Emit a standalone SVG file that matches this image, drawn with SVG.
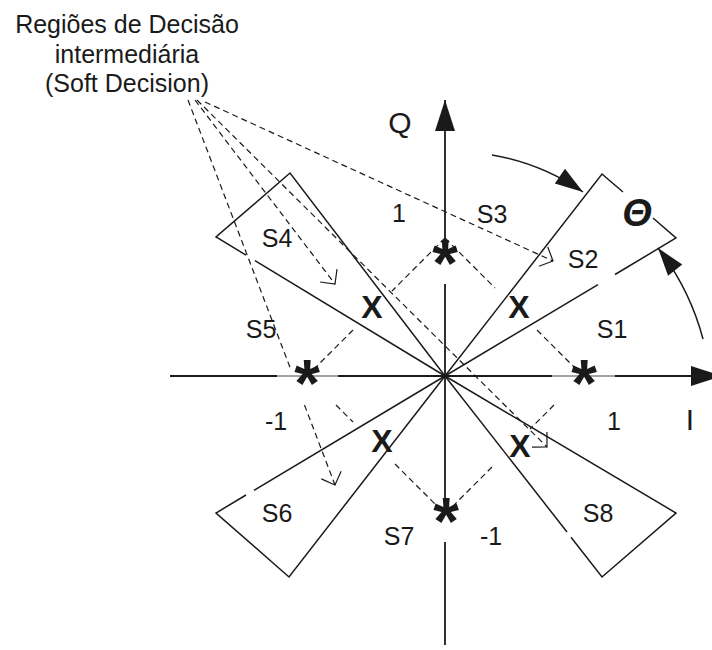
<svg xmlns="http://www.w3.org/2000/svg" width="712" height="650" viewBox="0 0 712 650">
<style>
  text { font-family: "Liberation Sans", Arial, sans-serif; fill: #1a1a1a; }
  .lbl { font-size: 25px; text-anchor: middle; }
  .big { font-size: 30px; text-anchor: middle; }
  .x { font-size: 32px; font-weight: bold; text-anchor: middle; }
  .star { font-size: 66px; font-weight: bold; text-anchor: middle; }
  .solid { stroke: #1a1a1a; stroke-width: 1.5; fill: none; stroke-linecap: butt; }
  .axis { stroke: #1a1a1a; stroke-width: 1.8; fill: none; }
  .thin { stroke: #1a1a1a; stroke-width: 0.8; fill: none; }
  .dash { stroke: #1a1a1a; stroke-width: 1.2; fill: none; stroke-dasharray: 6 4; }
</style>
<defs>
  <marker id="axhead" markerUnits="userSpaceOnUse" markerWidth="40" markerHeight="30" refX="0" refY="0" viewBox="-35 -15 40 30" orient="auto" overflow="visible">
    <path d="M0,0 L-31,-10 L-31,10 Z" fill="#1a1a1a"/>
  </marker>
  <marker id="archead" markerUnits="userSpaceOnUse" markerWidth="40" markerHeight="30" refX="0" refY="0" viewBox="-35 -15 40 30" orient="auto" overflow="visible">
    <path d="M0,0 L-28,-9 L-28,9 Z" fill="#1a1a1a"/>
  </marker>
  <marker id="open" markerUnits="userSpaceOnUse" markerWidth="30" markerHeight="30" refX="0" refY="0" viewBox="-15 -15 30 30" orient="auto" overflow="visible">
    <path d="M-10.6,-10.6 L0,0 L-10.6,10.6" fill="none" stroke="#1a1a1a" stroke-width="1.2" stroke-dasharray="none"/>
  </marker>
</defs>
<rect width="712" height="650" fill="#ffffff"/>

<g id="axes">
  <path class="axis" d="M445,240 L445,100" marker-end="url(#axhead)"/>
  <path class="axis" d="M445,284 L445,505"/>
  <path class="axis" d="M445,542 L445,645"/>
  <path class="axis" d="M170,376 L277,376"/>
  <path class="thin" d="M277,376 L338,376"/>
  <path class="axis" d="M338,376 L552,376"/>
  <path class="thin" d="M552,376 L615,376"/>
  <path class="axis" d="M615,376 L722,376" marker-end="url(#axhead)"/>
  <text class="big" x="400" y="133">Q</text>
  <text class="big" x="690" y="430">I</text>
</g>

<g id="region-S2">
  <path class="solid" d="M445,376 L602,174 L623,192"/>
  <path class="solid" d="M653,218 L676,238 L615,274.5"/>
  <path class="solid" d="M598,284.6 L445,376"/>
</g>
<g id="region-S4">
  <path class="solid" d="M445,376 L290,173 L216,237 L246,255.2"/>
  <path class="solid" d="M255,260.7 L445,376"/>
</g>
<g id="region-S6">
  <path class="solid" d="M445,376 L289,577 L216,513 L246,495"/>
  <path class="solid" d="M254,490.3 L445,376"/>
</g>
<g id="region-S8">
  <path class="solid" d="M445,376 L676,513 L602,577 L571,537.3"/>
  <path class="solid" d="M567,532 L445,376"/>
</g>

<g id="constellation">
  <path class="dash" d="M445,238 L392,291"/>
  <path class="dash" d="M353,330 L315,368"/>
  <path class="dash" d="M445,238 L495,288"/>
  <path class="dash" d="M537,330 L575,368"/>
  <path class="dash" d="M554,405 L530,429"/>
  <path class="dash" d="M492,467 L445,514"/>
  <path class="dash" d="M336,405 L353,422"/>
  <path class="dash" d="M395,464 L445,514"/>
  <text class="star" x="445" y="286">*</text>
  <text class="star" x="584" y="406">*</text>
  <text class="star" x="307" y="406">*</text>
  <text class="star" x="446" y="544">*</text>
  <text class="x" x="372" y="318">X</text>
  <text class="x" x="519" y="318">X</text>
  <text class="x" x="382" y="452">X</text>
  <text class="x" x="520" y="457">X</text>
</g>

<g id="theta">
  <path class="solid" d="M492,155 A229,229 0 0,1 583,192" marker-end="url(#archead)"/>
  <path class="solid" d="M703,339 A255,255 0 0,0 658,248" marker-end="url(#archead)"/>
  <text x="637" y="226" font-size="38" font-weight="bold" font-style="italic" text-anchor="middle">Θ</text>
</g>

<g id="labels">
  <text class="lbl" x="612" y="338">S1</text>
  <text class="lbl" x="583" y="268">S2</text>
  <text class="lbl" x="492" y="223">S3</text>
  <text class="lbl" x="277" y="247">S4</text>
  <text class="lbl" x="261" y="338">S5</text>
  <text class="lbl" x="277" y="522">S6</text>
  <text class="lbl" x="399" y="545">S7</text>
  <text class="lbl" x="598" y="522">S8</text>
  <text class="lbl" x="399" y="222">1</text>
  <text class="lbl" x="614" y="430">1</text>
  <text class="lbl" x="276" y="430">-1</text>
  <text class="lbl" x="491" y="545">-1</text>
</g>

<g id="note">
  <text class="lbl" x="127" y="33">Regiões de Decisão</text>
  <text class="lbl" x="127" y="63">intermediária</text>
  <text class="lbl" x="127" y="92">(Soft Decision)</text>
</g>

<g id="connectors">
  <path class="dash" d="M205,102 L553,261" marker-end="url(#open)"/>
  <path class="dash" d="M195,100 L335,284" marker-end="url(#open)"/>
  <path class="dash" d="M197,100 L547,447" marker-end="url(#open)"/>
  <path class="dash" d="M188,100 L291,370"/>
  <path class="dash" d="M304.5,405 L335,485" marker-end="url(#open)"/>
</g>
</svg>
